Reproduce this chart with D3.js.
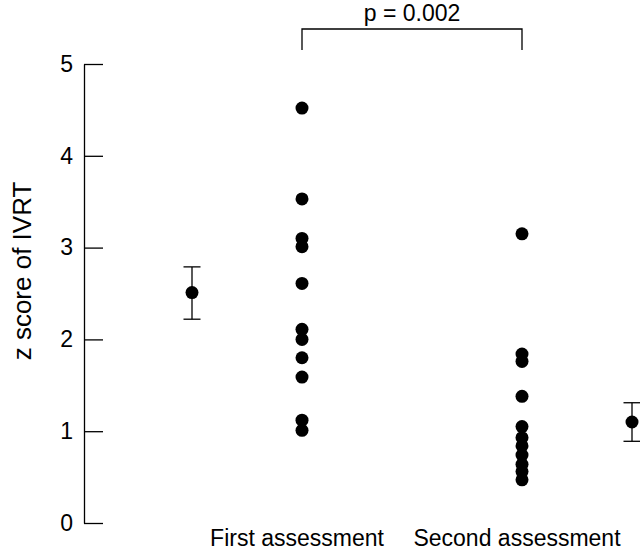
<!DOCTYPE html>
<html>
<head>
    <meta charset="utf-8">
    <title>z score of IVRT</title>
    <script src="https://d3js.org/d3.v7.min.js"></script>
    <style>
        body { margin: 0; background: #fff; }
        text { font-family: "Liberation Sans", Arial, Helvetica, sans-serif; fill: #000; }
        .axis text { font-size: 22px; }
        .axis path, .axis line { stroke: #000; stroke-width: 1.3px; }
    </style>
</head>
<body>
<div id="chart"></div>
<script>
    // values
    var firstValues  = [4.52, 3.53, 3.10, 3.01, 2.61, 2.11, 2.00, 1.80, 1.59, 1.12, 1.01];
    var secondValues = [3.15, 1.84, 1.76, 1.38, 1.05, 0.93, 0.84, 0.74, 0.64, 0.56, 0.47];
    // mean with error bar: [mean, low, high]
    var firstMean  = [2.51, 2.22, 2.79];
    var secondMean = [1.10, 0.89, 1.31];
    var groupLabels = ["First assessment", "Second assessment"];
    var yTicks = [0, 1, 2, 3, 4, 5];
    var pText = "p = 0.002";

    var width = 640, height = 551;
    var fontSize = "23px";

    var svg = d3.select("#chart")
        .append("svg")
            .attr("width", width)
            .attr("height", height);

    // slots: 0 = first mean, 1 = first, 3 = second, 4 = second mean
    var xScale = d3.scaleLinear().domain([0, 4]).range([192, 632]);
    var yScale = d3.scaleLinear().domain([0, 5]).range([523, 64]);

    var yAxis = d3.axisLeft(yScale)
        .tickValues(yTicks)
        .tickFormat(d3.format("d"))
        .tickSizeInner(-19)
        .tickSizeOuter(0)
        .tickPadding(11);

    svg.append("g")
        .attr("class", "axis")
        .attr("transform", "translate(84,0)")
        .call(yAxis)
        .selectAll("text")
        .style("font-size", fontSize);

    // y title
    svg.append("text")
        .attr("transform", "translate(31,271) rotate(-90)")
        .style("text-anchor", "middle")
        .style("font-size", "26px")
        .text("z score of IVRT");

    // individual points
    var pts = firstValues.map(function(v) { return [1, v]; })
        .concat(secondValues.map(function(v) { return [3, v]; }));

    svg.selectAll("circle.pt")
        .data(pts)
        .enter()
        .append("circle")
        .attr("class", "pt")
        .attr("cx", function(d) { return xScale(d[0]); })
        .attr("cy", function(d) { return yScale(d[1]); })
        .attr("r", 6.5)
        .attr("fill", "#000");

    // means with error bars
    var means = [[0, firstMean], [4, secondMean]];
    var capHalf = 8.5;
    var eb = svg.selectAll("g.mean")
        .data(means)
        .enter()
        .append("g")
        .attr("class", "mean");

    eb.append("line")
        .attr("x1", function(d) { return xScale(d[0]); })
        .attr("x2", function(d) { return xScale(d[0]); })
        .attr("y1", function(d) { return yScale(d[1][1]); })
        .attr("y2", function(d) { return yScale(d[1][2]); })
        .attr("stroke", "#000").attr("stroke-width", 1.3);
    eb.append("line")
        .attr("x1", function(d) { return xScale(d[0]) - capHalf; })
        .attr("x2", function(d) { return xScale(d[0]) + capHalf; })
        .attr("y1", function(d) { return yScale(d[1][2]); })
        .attr("y2", function(d) { return yScale(d[1][2]); })
        .attr("stroke", "#000").attr("stroke-width", 1.3);
    eb.append("line")
        .attr("x1", function(d) { return xScale(d[0]) - capHalf; })
        .attr("x2", function(d) { return xScale(d[0]) + capHalf; })
        .attr("y1", function(d) { return yScale(d[1][1]); })
        .attr("y2", function(d) { return yScale(d[1][1]); })
        .attr("stroke", "#000").attr("stroke-width", 1.3);
    eb.append("circle")
        .attr("cx", function(d) { return xScale(d[0]); })
        .attr("cy", function(d) { return yScale(d[1][0]); })
        .attr("r", 6.5)
        .attr("fill", "#000");

    // group labels
    svg.selectAll("text.group")
        .data(groupLabels)
        .enter()
        .append("text")
        .attr("class", "group")
        .attr("x", function(d, i) { return xScale(i === 0 ? 1 : 3) - 5; })
        .attr("y", 546)
        .style("text-anchor", "middle")
        .style("font-size", fontSize)
        .text(function(d) { return d; });

    // significance bracket
    var bx1 = xScale(1), bx2 = xScale(3);
    svg.append("path")
        .attr("d", "M" + bx1 + ",50V29H" + bx2 + "V50")
        .attr("fill", "none")
        .attr("stroke", "#000")
        .attr("stroke-width", 1.3);

    svg.append("text")
        .attr("x", xScale(2))
        .attr("y", 21)
        .style("text-anchor", "middle")
        .style("font-size", fontSize)
        .text(pText);
</script>
</body>
</html>
